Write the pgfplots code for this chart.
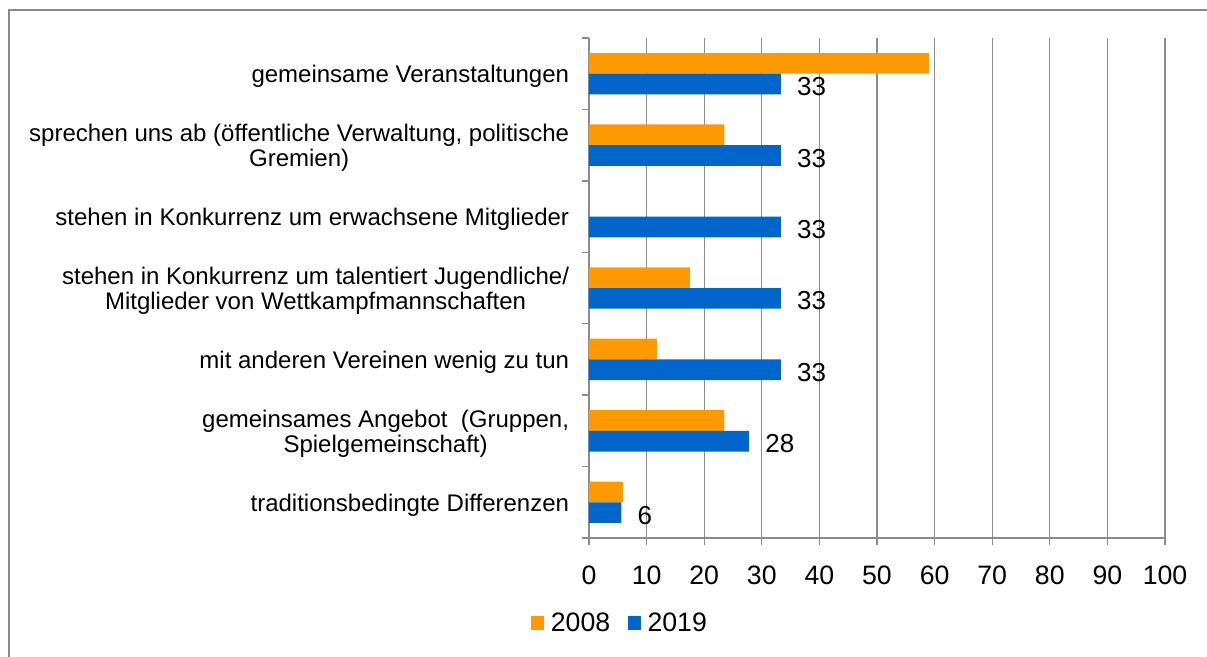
\documentclass[border=0pt]{standalone}
\usepackage{pgfplots}
\pgfplotsset{compat=1.18}
\usepackage{fontspec}
\setmainfont{Liberation Sans}
\definecolor{cOrange}{RGB}{255,153,0}
\definecolor{cBlue}{RGB}{0,102,204}
\definecolor{cGrid}{RGB}{140,140,140}
\definecolor{cFrame}{RGB}{136,136,136}
\begin{document}
\begin{tikzpicture}
\begin{axis}[
  at={(441.75pt,89.25pt)}, anchor=south west,
  scale only axis, width=432pt, height=375pt,
  xbar, bar width=0.29,
  xmin=0, xmax=100, ymin=-0.5, ymax=6.5,
  xtick={0,10,...,100},
  ytick={0,...,6},
  yticklabels={
    traditionsbedingte Differenzen,
    {gemeinsames Angebot\ \ (Gruppen,\\Spielgemeinschaft)},
    mit anderen Vereinen wenig zu tun,
    {stehen in Konkurrenz um talentiert Jugendliche/\\Mitglieder von Wettkampfmannschaften},
    stehen in Konkurrenz um erwachsene Mitglieder,
    {sprechen uns ab (öffentliche Verwaltung, politische\\Gremien)},
    gemeinsame Veranstaltungen},
  minor ytick={-0.5,0.5,...,6.5},
  major y tick style={draw=none},
  tick align=outside,
  major tick length=5.25pt, minor tick length=5.25pt,
  every tick/.style={cGrid, line width=1pt},
  axis x line*=bottom, axis y line*=left,
  axis line style={cGrid, line width=1pt},
  xmajorgrids, grid style={cGrid, line width=1pt},
  /pgf/number format/assume math mode=true,
  xticklabel style={font=\fontsize{20}{24}\selectfont, yshift=-12.5pt},
  yticklabel style={font=\fontsize{18}{19}\selectfont, align=center, inner sep=0pt, xshift=-9.5pt, yshift=-2pt},
  legend columns=2,
  legend style={at={(0.0545,-0.17)}, anchor=center, draw=none,
    font=\fontsize{20}{24}\selectfont,
    /tikz/every even column/.append style={column sep=11.25pt}},
  legend image code/.code={\fill[#1] (0pt,-4.9pt) rectangle (9.75pt,4.9pt); \path (0pt,0pt) -- (12.75pt,0pt);},
]
\addplot[fill=cOrange, draw=none, bar shift=0.145] coordinates {
  (59,6) (23.5,5) (17.5,3) (11.8,2) (23.5,1) (5.9,0)};
\addplot[fill=cBlue, draw=none, bar shift=-0.145,
  nodes near coords, point meta=explicit,
  nodes near coords style={anchor=west, inner sep=0pt, xshift=12pt, yshift=-2pt,
    font=\fontsize{19.5}{22}\selectfont, black,
    /pgf/number format/.cd, fixed, precision=0, assume math mode=true}]
  coordinates {
  (33.3,6) [33] (33.3,5) [33] (33.3,4) [33] (33.3,3) [33] (33.3,2) [33] (27.8,1) [28] (5.6,0) [6]};
\legend{2008,2019}
\end{axis}
\draw[cFrame, line width=1.5pt] (6.75pt,-10pt) -- (6.75pt,485.25pt) -- (920pt,485.25pt);
\pgfresetboundingbox
\useasboundingbox (0pt,0pt) rectangle (905.25pt,492.75pt);
\end{tikzpicture}
\end{document}
